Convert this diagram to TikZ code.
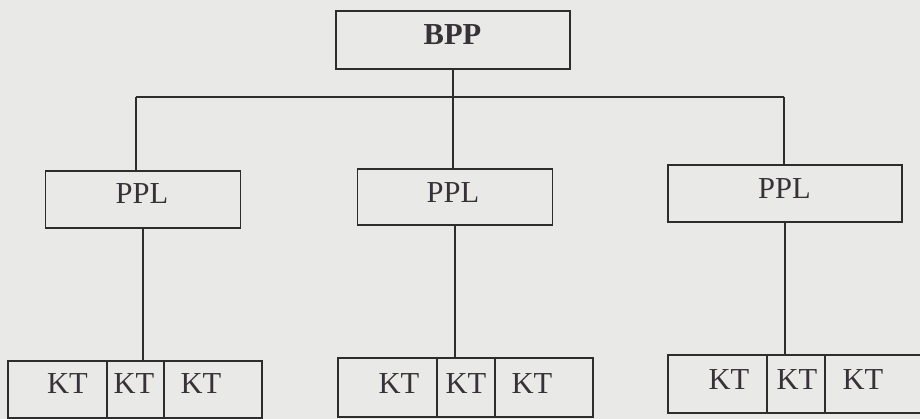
\documentclass[tikz,border=0pt]{standalone}
\usepackage{fontspec}
\setmainfont{Liberation Serif}
\definecolor{paper}{RGB}{233,233,231}
\definecolor{ink}{RGB}{45,45,45}
\definecolor{txt}{RGB}{55,50,55}
\tikzset{
  boxnode/.style={draw=ink, line width=1.6pt, rectangle, inner sep=0pt},
  lbl/.style={anchor=base, inner sep=0pt, text=txt, font=\fontsize{30.5}{36}\selectfont},
  conn/.style={draw=ink, line width=1.6pt}
}
\begin{document}
\begin{tikzpicture}[x=1pt,y=-1pt]
\useasboundingbox (0,0) rectangle (920,419);
\fill[paper] (0,0) rectangle (920,419);
\clip (0,0) rectangle (920,419);
% top box
\node[boxnode, minimum width=234pt, minimum height=58pt] (bpp) at (453,40) {};
\node[lbl, font=\fontsize{30.5}{36}\selectfont\bfseries] (tbpp) at (452.5,45) {BPP};
% PPL boxes
\node[boxnode, minimum width=195pt, minimum height=57pt] (pplL) at (143,199.5) {};
\node[boxnode, minimum width=195pt, minimum height=56pt] (pplM) at (455,197) {};
\node[boxnode, minimum width=234pt, minimum height=57pt] (pplR) at (785,193.5) {};
\node[lbl] (tpplL) at (142,204) {PPL};
\node[lbl] (tpplM) at (453,203) {PPL};
\node[lbl] (tpplR) at (784.5,199) {PPL};
% KT rows
\node[boxnode, minimum width=99pt, minimum height=57pt] (kL1) at (57.5,389.5) {};
\node[boxnode, minimum width=57pt, minimum height=57pt] (kL2) at (135.5,389.5) {};
\node[boxnode, minimum width=98pt, minimum height=57pt] (kL3) at (213,389.5) {};
\node[boxnode, minimum width=99pt, minimum height=59pt] (kM1) at (387.5,387.5) {};
\node[boxnode, minimum width=58pt, minimum height=59pt] (kM2) at (466,387.5) {};
\node[boxnode, minimum width=98pt, minimum height=59pt] (kM3) at (544,387.5) {};
\node[boxnode, minimum width=99pt, minimum height=58pt] (kR1) at (717.5,384) {};
\node[boxnode, minimum width=58pt, minimum height=58pt] (kR2) at (796,384) {};
\node[boxnode, minimum width=110pt, minimum height=58pt] (kR3) at (880,384) {};
\node[lbl] (tkL1) at (67.5,393) {KT};
\node[lbl] (tkL2) at (134,393) {KT};
\node[lbl] (tkL3) at (201,393) {KT};
\node[lbl] (tkM1) at (399,393) {KT};
\node[lbl] (tkM2) at (466,393) {KT};
\node[lbl] (tkM3) at (532,393) {KT};
\node[lbl] (tkR1) at (729,389) {KT};
\node[lbl] (tkR2) at (797,389) {KT};
\node[lbl] (tkR3) at (863,389) {KT};
% connectors
\coordinate (busL) at (136,97);
\coordinate (busR) at (784,97);
\draw[conn] (busL) -- (busR);
\draw[conn] (bpp.south) -- (bpp.south |- pplM.north);
\draw[conn] (busL) -- (busL |- pplL.north);
\draw[conn] (busR) -- (busR |- pplR.north);
\draw[conn] (pplL.south) -- (pplL.south |- kL2.north);
\draw[conn] (pplM.south) -- (pplM.south |- kM1.north);
\draw[conn] (pplR.south) -- (pplR.south |- kR2.north);
\end{tikzpicture}
\end{document}
